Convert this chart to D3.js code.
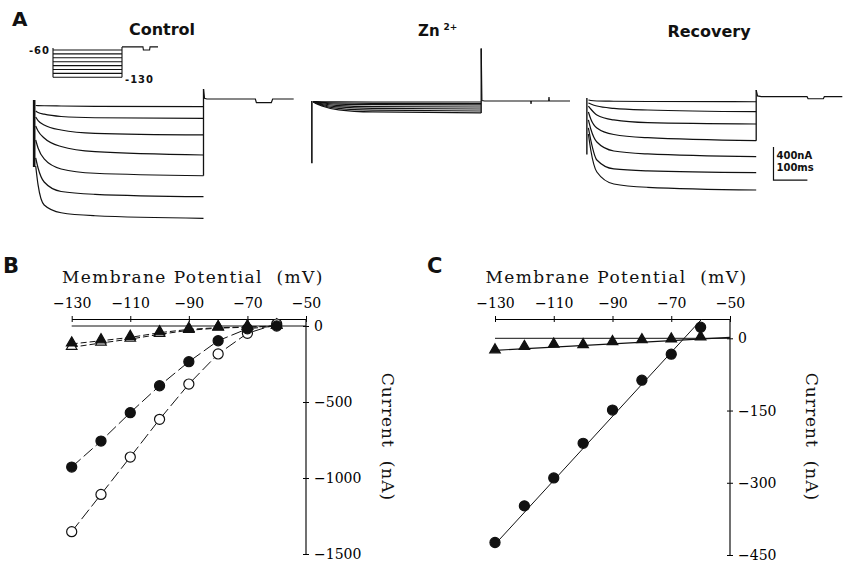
<!DOCTYPE html>
<html lang="en">
<head>
<meta charset="utf-8">
<title>Zn block of inward current</title>
<script src="https://cdn.jsdelivr.net/npm/d3@7"></script>
<style>
body { margin: 0; background: #fff; }
svg { display: block; }
.trace { fill: none; stroke: #111; stroke-width: 1.2px; }
.serif { font-family: "DejaVu Serif", serif; fill: #111; white-space: pre; }
.sans { font-family: "DejaVu Sans", sans-serif; font-weight: bold; fill: #111; }
</style>
</head>
<body>
<script>
// ---------- panel A : current traces (nA vs ms after step onset) ----------
var traceTimes = [5, 12, 30, 80, 180, 500];

var controlTraces = [
  [-79, -80, -82, -85, -89, -93],
  [-145, -164, -184, -212, -227, -234],
  [-218, -261, -315, -376, -416, -436],
  [-327, -388, -473, -576, -639, -679],
  [-497, -594, -727, -848, -900, -930],
  [-715, -836, -1006, -1121, -1155, -1184],
  [-812, -1042, -1285, -1379, -1415, -1446]
];
var znTraces = [
  [-6, -7, -9, -11, -12, -12],
  [-7, -10, -16, -24, -28, -30],
  [-8, -13, -24, -38, -45, -48],
  [-9, -17, -33, -55, -67, -73],
  [-10, -21, -42, -72, -89, -97],
  [-11, -25, -51, -90, -111, -121],
  [-12, -29, -60, -107, -133, -145]
];
var recoveryTraces = [
  [-40, -46, -52, -55, -58, -61],
  [-76, -88, -113, -141, -161, -182],
  [-113, -149, -222, -282, -315, -331],
  [-185, -270, -379, -458, -497, -533],
  [-282, -391, -549, -658, -694, -727],
  [-379, -525, -767, -876, -900, -921],
  [-452, -646, -913, -1058, -1098, -1131]
];

// capacitive transient at onset [top, bottom] and jump at step end [from, to]
var controlTransient = [-12, -824];
var znTransient = [0, -755];
var recoveryTransient = [-16, -700];
var controlJump = [-930, 121];
var znJump = [-145, 636];
var recoveryJump = [-533, 81];

// after the step: [ms, nA]
var controlTail = [[500, 121], [503, 8], [510, 0], [653, 0], [656, -45], [700, -45], [704, 0], [766, 0]];
var znTail = [[500, 636], [502, 5], [510, 0], [646, 0], [647, -36], [648, 0], [699, 0], [700, 48], [701, 0], [762, 0]];
var recoveryTail = [[500, 81], [504, 10], [515, 0], [650, 0], [653, -25], [698, -25], [701, 0], [754, 0]];

// voltage protocol (mV)
var protocolLevels = [-60, -70, -80, -90, -100, -110, -120, -130];
var protocolTail = [[500, -52], [652, -52], [655, -60], [700, -60], [703, -52], [761, -52]];

// ---------- panels B and C : I-V (nA vs mV) ----------
var potentials = [-130, -120, -110, -100, -90, -80, -70, -60];
var bOpenCircle = [-1353, -1108, -862, -614, -382, -184, -48, 13];
var bFilledCircle = [-928, -757, -570, -393, -235, -97, -18, 0];
var bOpenTriangle = [-140, -112, -86, -55, -28, -14, -8, 0];
var bFilledTriangle = [-118, -97, -75, -44, -22, -11, -7, 0];
var cCircle = [-424, -348, -290, -218, -149, -87, -33, 23];
var cTriangle = [-26, -19, -14, -15, -9, -5, -3.5, 1];
var cCircleFit = [[-130, -428], [-59.6, 40]];
var cTriangleFit = [[-130, -25], [-50, 2]];

var xTicks = [-130, -110, -90, -70, -50];
var bYTicks = [0, -500, -1000, -1500];
var cYTicks = [0, -150, -300, -450];

var svg = d3.select("body").append("svg")
    .attr("width", 843)
    .attr("height", 566);
svg.append("rect").attr("width", 843).attr("height", 566).attr("fill", "#fff");

// ---------- panel A ----------
var panelsA = [
  {x0: 34, base: 99, traces: controlTraces, trans: controlTransient, transW: 2.6, jump: controlJump, tail: controlTail},
  {x0: 311.7, base: 101, traces: znTraces, trans: znTransient, transW: 1.6, jump: znJump, tail: znTail},
  {x0: 586.7, base: 96.7, traces: recoveryTraces, trans: recoveryTransient, transW: 1.4, jump: recoveryJump, tail: recoveryTail}
];

panelsA.forEach(function(p, k) {
  var x = d3.scaleLinear().domain([0, 500]).range([p.x0, p.x0 + 169.5]);
  var y = d3.scaleLinear().domain([0, -400]).range([p.base, p.base + 33]);
  p.x = x; p.y = y;
  var line = d3.line().curve(d3.curveMonotoneX)
      .x(function(d) { return x(d[0]); })
      .y(function(d) { return y(d[1]); });
  var g = svg.append("g");
  p.traces.forEach(function(tr) {
    g.append("path").attr("class", "trace")
      .attr("stroke", k == 1 ? "#000" : "#111")
      .attr("stroke-width", k == 1 ? 2.4 : 1.2)
      .attr("d", line(traceTimes.map(function(t, i) { return [t, tr[i]]; })));
  });
  g.append("line")
    .attr("x1", x(0.5)).attr("x2", x(0.5))
    .attr("y1", y(p.trans[0])).attr("y2", y(p.trans[1]))
    .attr("stroke", "#111").attr("stroke-width", p.transW);
  g.append("line")
    .attr("x1", x(500)).attr("x2", x(500))
    .attr("y1", y(p.jump[0])).attr("y2", y(p.jump[1]))
    .attr("stroke", "#111").attr("stroke-width", 1.3);
  g.append("path").attr("class", "trace").attr("stroke-width", 1.5)
    .attr("d", d3.line().x(function(d) { return x(d[0]); }).y(function(d) { return y(d[1]); })(p.tail));
});

// scale bar (uses the Recovery scales)
(function() {
  var x = panelsA[2].x, y = panelsA[2].y;
  var t0 = 551, i0 = -1010;
  svg.append("path").attr("fill", "none").attr("stroke", "#111").attr("stroke-width", 1.2)
    .attr("d", "M" + x(t0) + "," + y(i0 + 400) + "V" + y(i0) + "H" + x(t0 + 100));
  svg.append("text").attr("class", "sans").attr("x", x(t0) + 3).attr("y", y(i0 + 400) + 11.5)
    .style("font-size", "10px").text("400nA");
  svg.append("text").attr("class", "sans").attr("x", x(t0) + 3).attr("y", y(i0) - 9)
    .style("font-size", "10px").text("100ms");
})();

// voltage protocol inset
(function() {
  var x = d3.scaleLinear().domain([0, 500]).range([53, 122]);
  var y = d3.scaleLinear().domain([-60, -130]).range([50, 77.3]);
  var g = svg.append("g").attr("stroke", "#111").attr("fill", "none").attr("stroke-width", 1.1);
  protocolLevels.forEach(function(v) {
    g.append("line").attr("x1", x(0)).attr("x2", x(500)).attr("y1", y(v)).attr("y2", y(v));
  });
  g.append("line").attr("x1", x(0)).attr("x2", x(0)).attr("y1", y(-60) - 2).attr("y2", y(-130));
  g.append("line").attr("x1", x(500)).attr("x2", x(500)).attr("y1", y(-130)).attr("y2", y(-52));
  g.append("path").attr("d", d3.line().x(function(d) { return x(d[0]); }).y(function(d) { return y(d[1]); })(protocolTail));
  svg.append("text").attr("class", "sans").attr("x", 50).attr("y", 53.5).attr("text-anchor", "end")
    .style("font-size", "10px").style("letter-spacing", "1px").text("-60");
  svg.append("text").attr("class", "sans").attr("x", 125).attr("y", 82.5)
    .style("font-size", "10px").style("letter-spacing", "1px").text("-130");
})();

// titles
svg.append("text").attr("class", "sans").attr("x", 12).attr("y", 26).style("font-size", "20px").text("A");
svg.append("text").attr("class", "sans").attr("x", 162).attr("y", 35).attr("text-anchor", "middle")
  .style("font-size", "16px").text("Control");
var zn = svg.append("text").attr("class", "sans").attr("x", 418).attr("y", 36).style("font-size", "15px");
zn.append("tspan").text("Zn");
zn.append("tspan").attr("dx", 4).attr("dy", -6).style("font-size", "9px").text("2+");
svg.append("text").attr("class", "sans").attr("x", 709).attr("y", 37).attr("text-anchor", "middle")
  .style("font-size", "16px").text("Recovery");

// ---------- panels B and C ----------
function ivPanel(letter, lx, x, y, yTicks) {
  var topY = 319;
  var right = x.range()[1];
  var gx = svg.append("g").attr("transform", "translate(0," + topY + ")")
    .call(d3.axisTop(x).tickValues(xTicks).tickSizeInner(3).tickSizeOuter(0).tickPadding(8));
  gx.attr("font-family", "DejaVu Serif, serif").attr("font-size", 14);
  gx.selectAll(".tick line").attr("y1", 3);
  gx.select(".domain").attr("stroke-width", 1.2);

  var gy = svg.append("g").attr("transform", "translate(" + right + ",0)")
    .call(d3.axisRight(y).tickValues(yTicks).tickFormat(d3.format("d"))
      .tickSizeInner(3).tickSizeOuter(0).tickPadding(5));
  gy.attr("font-family", "DejaVu Serif, serif").attr("font-size", 14);
  gy.select(".domain").remove();
  gy.selectAll(".tick line").attr("x1", -3);
  gy.append("line").attr("y1", topY).attr("y2", y.range()[1]).attr("stroke", "#111").attr("stroke-width", 1.2);

  svg.append("line").attr("x1", x(-130)).attr("x2", x(-50)).attr("y1", y(0)).attr("y2", y(0))
    .attr("stroke", "#111").attr("stroke-width", 1);

  var cx = (x.range()[0] + right) / 2;
  svg.append("text").attr("class", "serif").attr("x", cx + 4).attr("y", 283).attr("text-anchor", "middle")
    .style("font-size", "17px").style("letter-spacing", "1.4px").text("Membrane Potential  (mV)");
  svg.append("text").attr("class", "serif")
    .attr("transform", "translate(" + (right + 76) + ",437) rotate(90)")
    .attr("text-anchor", "middle")
    .style("font-size", "17px").style("letter-spacing", "1px").text("Current  (nA)");
  svg.append("text").attr("class", "sans").attr("x", lx).attr("y", 273).style("font-size", "21px").text(letter);
}

function pts(vals) { return potentials.map(function(v, i) { return [v, vals[i]]; }); }

function series(x, y, data, shape, filled, dash) {
  var line = d3.line().x(function(d) { return x(d[0]); }).y(function(d) { return y(d[1]); });
  if (dash !== null) {
    svg.append("path").attr("fill", "none").attr("stroke", "#111").attr("stroke-width", 1)
      .attr("stroke-dasharray", dash).attr("d", line(data));
  }
  var sym = d3.symbol().type(shape == "circle" ? d3.symbolCircle : d3.symbolTriangle)
    .size(shape == "circle" ? 80 : 48);
  svg.append("g").selectAll("path").data(data).enter().append("path")
    .attr("transform", function(d) { return "translate(" + x(d[0]) + "," + (y(d[1]) + (shape == "circle" ? 0 : -1)) + ")"; })
    .attr("d", sym)
    .attr("fill", filled ? "#111" : "#fff")
    .attr("stroke", "#111").attr("stroke-width", 1.2);
}

var xB = d3.scaleLinear().domain([-130, -50]).range([71.7, 306]);
var yB = d3.scaleLinear().domain([0, -1500]).range([326, 554]);
ivPanel("B", 3, xB, yB, bYTicks);
series(xB, yB, pts(bOpenTriangle), "triangle", false, "6,3");
series(xB, yB, pts(bFilledTriangle), "triangle", true, "6,3");
series(xB, yB, pts(bOpenCircle), "circle", false, "12,4");
series(xB, yB, pts(bFilledCircle), "circle", true, "12,4");

var xC = d3.scaleLinear().domain([-130, -50]).range([495, 730]);
var yC = d3.scaleLinear().domain([0, -450]).range([338.3, 555]);
ivPanel("C", 427, xC, yC, cYTicks);
var fitLine = d3.line().x(function(d) { return xC(d[0]); }).y(function(d) { return yC(d[1]); });
svg.append("path").attr("fill", "none").attr("stroke", "#111").attr("stroke-width", 1).attr("d", fitLine(cCircleFit));
svg.append("path").attr("fill", "none").attr("stroke", "#111").attr("stroke-width", 1.2).attr("d", fitLine(cTriangleFit));
series(xC, yC, pts(cTriangle), "triangle", true, null);
series(xC, yC, pts(cCircle), "circle", true, null);
</script>
</body>
</html>
